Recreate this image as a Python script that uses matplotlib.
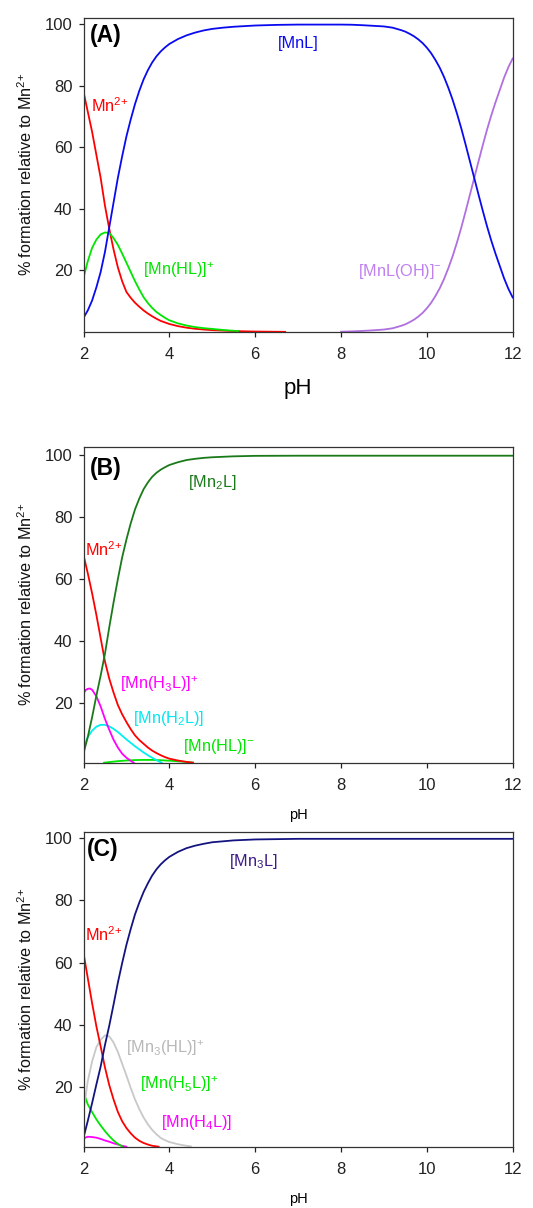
import matplotlib
matplotlib.use("Agg")
import matplotlib.pyplot as plt

plt.rcParams['font.family'] = ['Liberation Sans', 'DejaVu Sans']
plt.rcParams['mathtext.fontset'] = 'custom'
plt.rcParams['mathtext.rm'] = 'Liberation Sans'
plt.rcParams['mathtext.it'] = 'Liberation Sans:italic'
plt.rcParams['mathtext.bf'] = 'Liberation Sans:bold'

# ---------------- Panel A data ----------------
ph_A_mn = [2.0, 2.1, 2.2, 2.3, 2.4, 2.5, 2.6, 2.7, 2.8, 2.9, 3.0, 3.1, 3.2, 3.3, 3.4, 3.5, 3.6, 3.7, 3.8, 3.9,
           4.0, 4.2, 4.4, 4.6, 4.8, 5.0, 5.5, 6.0, 6.7]
A_mn = [78, 71.5, 65, 57.5, 50, 41, 33.5, 26.8, 21, 16.5, 13, 11.1, 9.5, 8.2, 7, 6, 5.1, 4.3, 3.6, 3.1,
        2.6, 1.9, 1.4, 1.05, 0.8, 0.6, 0.3, 0.15, 0.05]

ph_A_hl = [2.0, 2.1, 2.2, 2.3, 2.4, 2.5, 2.6, 2.7, 2.8, 2.9, 3.0, 3.1, 3.2, 3.3, 3.4, 3.5, 3.6, 3.7, 3.8, 3.9,
           4.0, 4.2, 4.4, 4.6, 4.8, 5.0, 5.3, 5.6]
A_hl = [17.6, 23, 27.3, 30, 31.7, 32.3, 32.2, 30.5, 28.3, 25.5, 22.5, 19.5, 16.5, 13.8, 11.3, 9.4, 7.8, 6.5, 5.5, 4.6,
        3.8, 2.8, 2.1, 1.6, 1.25, 1.0, 0.6, 0.3]

ph_A_mnl = [2.0, 2.1, 2.2, 2.3, 2.4, 2.5, 2.6, 2.7, 2.8, 2.9, 3.0, 3.1, 3.2, 3.3, 3.4, 3.5, 3.6, 3.7, 3.8, 3.9,
            4.0, 4.2, 4.4, 4.6, 4.8, 5.0, 5.25, 5.5, 6.0, 6.5, 7.0, 7.5, 8.0, 8.25, 8.5, 8.75,
            9.0, 9.1, 9.2, 9.3, 9.4, 9.5, 9.6, 9.7, 9.8, 9.9, 10.0, 10.1, 10.2, 10.3, 10.4, 10.5,
            10.6, 10.7, 10.8, 10.9, 11.0, 11.1, 11.2, 11.3, 11.4, 11.5, 11.6, 11.7, 11.8, 11.9, 12.0]
A_mnl = [4.6, 7, 10.2, 14.5, 19.5, 26, 34, 42, 50, 57, 63.5, 69, 74, 78.3, 82, 85, 87.5, 89.5, 91.1, 92.4,
         93.5, 95.1, 96.3, 97.2, 97.9, 98.4, 98.8, 99.1, 99.5, 99.7, 99.8, 99.8, 99.8, 99.75, 99.6, 99.4,
         99.2, 99.0, 98.8, 98.4, 98.0, 97.5, 96.8, 96.0, 95.0, 93.8, 92.3, 90.5, 88.3, 85.8, 82.8, 79.3,
         75.4, 71.0, 66.2, 61.0, 55.6, 50.2, 44.8, 39.5, 34.4, 29.7, 25.4, 21.4, 17.4, 14.0, 11.2]

ph_A_oh = [8.0, 8.25, 8.5, 8.75, 9.0, 9.1, 9.2, 9.3, 9.4, 9.5, 9.6, 9.7, 9.8, 9.9, 10.0, 10.1, 10.2, 10.3,
           10.4, 10.5, 10.6, 10.7, 10.8, 10.9, 11.0, 11.1, 11.2, 11.3, 11.4, 11.5, 11.6, 11.7, 11.8, 11.9, 12.0]
A_oh = [0.1, 0.2, 0.35, 0.55, 0.8, 1.0, 1.2, 1.6, 2.0, 2.5, 3.2, 4.0, 5.0, 6.2, 7.7, 9.5, 11.7, 14.2,
        17.2, 20.7, 24.6, 29.0, 33.8, 39.0, 44.4, 49.8, 55.2, 60.5, 65.6, 70.3, 74.6, 78.6, 82.6, 86.0, 88.8]

# ---------------- Panel B data ----------------
ph_B_mn2l = [2.0, 2.1, 2.2, 2.3, 2.4, 2.5, 2.6, 2.7, 2.8, 2.9, 3.0, 3.1, 3.2, 3.3, 3.4, 3.5, 3.6, 3.7, 3.8, 3.9,
             4.0, 4.2, 4.4, 4.6, 4.8, 5.0, 5.5, 6.0, 7.0, 8.0, 9.0, 10.0, 11.0, 12.0]
B_mn2l = [3.9, 9.2, 15.5, 22.5, 29, 36, 44.5, 52.5, 60, 67, 72.8, 78, 82.5, 86, 89, 91.2, 93, 94.3, 95.3, 96.1,
          96.8, 97.7, 98.4, 98.8, 99.1, 99.3, 99.6, 99.75, 99.8, 99.8, 99.8, 99.8, 99.8, 99.8]

ph_B_mn = [2.0, 2.1, 2.2, 2.3, 2.4, 2.5, 2.6, 2.7, 2.8, 2.9, 3.0, 3.1, 3.2, 3.3, 3.4, 3.5, 3.6, 3.7, 3.8, 3.9,
           4.0, 4.2, 4.4, 4.55]
B_mn = [67.8, 61.9, 55.5, 48.5, 41, 33.5, 28, 23.5, 19.5, 16.5, 14, 11.7, 9.7, 8.2, 7, 5.8, 4.8, 4, 3.3, 2.7,
        2.2, 1.6, 1.15, 0.9]

ph_B_h3l = [2.0, 2.05, 2.1, 2.15, 2.2, 2.3, 2.4, 2.5, 2.6, 2.7, 2.8, 2.9, 3.0, 3.1, 3.17]
B_h3l = [23.2, 24.3, 24.7, 24.8, 24.4, 22.3, 19, 15, 11.5, 8.3, 5.8, 3.8, 2.5, 1.5, 0.9]

ph_B_h2l = [2.0, 2.1, 2.2, 2.3, 2.4, 2.5, 2.6, 2.7, 2.8, 2.9, 3.0, 3.1, 3.2, 3.3, 3.4, 3.5, 3.6, 3.7, 3.82]
B_h2l = [5.4, 9.2, 11.2, 12.5, 13.1, 13.1, 12.6, 11.8, 10.8, 9.6, 8.4, 7.3, 6.2, 5.2, 4.2, 3.3, 2.5, 1.7, 0.9]

ph_B_hl = [2.48, 2.6, 2.8, 3.0, 3.2, 3.4, 3.6, 3.8, 4.0, 4.2, 4.4, 4.55]
B_hl = [0.9, 1.1, 1.4, 1.6, 1.75, 1.8, 1.8, 1.7, 1.55, 1.35, 1.15, 0.95]

# ---------------- Panel C data ----------------
ph_C_mn3l = [2.0, 2.1, 2.2, 2.3, 2.4, 2.5, 2.6, 2.7, 2.8, 2.9, 3.0, 3.1, 3.2, 3.3, 3.4, 3.5, 3.6, 3.7, 3.8, 3.9,
             4.0, 4.2, 4.4, 4.6, 4.8, 5.0, 5.5, 6.0, 7.0, 8.0, 9.0, 10.0, 11.0, 12.0]
C_mn3l = [3.7, 9.1, 14.8, 20.8, 26.6, 33.5, 39.7, 46.5, 53.5, 59.8, 65.7, 70.8, 75.5, 79.3, 82.7, 85.5, 88, 90, 91.6, 92.9,
          94, 95.6, 96.8, 97.6, 98.2, 98.7, 99.3, 99.6, 99.8, 99.8, 99.8, 99.8, 99.8, 99.8]

ph_C_mn = [2.0, 2.1, 2.2, 2.3, 2.4, 2.5, 2.6, 2.7, 2.8, 2.9, 3.0, 3.1, 3.2, 3.3, 3.4, 3.5, 3.6, 3.75]
C_mn = [63.1, 55, 47, 39.5, 33, 26.3, 20.6, 16, 12, 9, 6.8, 5.1, 3.7, 2.7, 2.0, 1.5, 1.1, 0.8]

ph_C_m3hl = [2.0, 2.1, 2.2, 2.3, 2.4, 2.5, 2.6, 2.7, 2.8, 2.9, 3.0, 3.1, 3.2, 3.3, 3.4, 3.5, 3.6, 3.7, 3.8, 3.9,
             4.0, 4.2, 4.35, 4.5]
C_m3hl = [12.3, 21.9, 28.2, 32.8, 35.2, 36.6, 36.3, 34.3, 31.3, 27.5, 23.7, 19.7, 16, 12.9, 10.2, 8, 6.2, 4.8, 3.6, 2.9,
          2.3, 1.6, 1.2, 0.9]

ph_C_h5l = [2.0, 2.1, 2.2, 2.3, 2.4, 2.5, 2.6, 2.7, 2.8, 2.9]
C_h5l = [18.2, 14.4, 11.9, 9.6, 7.6, 5.8, 4.2, 2.8, 1.7, 0.9]

ph_C_h4l = [2.0, 2.1, 2.2, 2.3, 2.4, 2.5, 2.6, 2.7, 2.8, 2.9, 3.0]
C_h4l = [3.5, 4.0, 3.9, 3.7, 3.3, 2.8, 2.4, 1.9, 1.5, 1.1, 0.8]

x_ticks = [2, 4, 6, 8, 10, 12]
y_ticks = [20, 40, 60, 80, 100]
MN2 = r'Mn$\mathregular{^{2{+}}}$'
ylabel = '% formation relative to ' + MN2

W, H = 533, 1208
fig = plt.figure(figsize=(W / 100, H / 100), dpi=100)

FS_TICK = 12
FS_LAB = 11.7
FS_TXT = 11.7


def make_ax(top_px, bot_px, ylim):
    left, right = 83.5, 512.7
    ax = fig.add_axes([left / W, 1 - bot_px / H, (right - left) / W, (bot_px - top_px) / H])
    ax.set_xlim(2, 12)
    ax.set_ylim(*ylim)
    ax.set_xticks(x_ticks)
    ax.set_yticks(y_ticks)
    ax.tick_params(direction='out', length=3.5, width=0.9, labelsize=FS_TICK, colors='#222222',
                   top=False, right=False)
    ax.tick_params(axis='x', pad=7.5)
    ax.tick_params(axis='y', pad=4.5)
    for s in ax.spines.values():
        s.set_color('#333333')
        s.set_linewidth(0.9)
    ax.set_ylabel(ylabel, fontsize=FS_LAB, color='#111111', labelpad=7)
    return ax


lw = 1.3

# Panel A
axA = make_ax(17.5, 332.0, (0, 102.1))
axA.plot(ph_A_mn, A_mn, color='#ff0000', lw=lw)
axA.plot(ph_A_hl, A_hl, color='#00e600', lw=lw)
axA.plot(ph_A_oh, A_oh, color='#b070e0', lw=lw)
axA.plot(ph_A_mnl, A_mnl, color='#0a0af0', lw=lw)
axA.set_xlabel('pH', fontsize=16, labelpad=11)
axA.text(2.14, 96.4, '(A)', fontsize=16.5, fontweight='bold', va='center', ha='left')
axA.text(7.0, 93.5, '[MnL]', color='#0a0af0', fontsize=FS_TXT, va='center', ha='center')
axA.text(2.17, 73.5, MN2, color='#ff0000', fontsize=FS_TXT, va='center', ha='left')
axA.text(3.38, 20, r'[Mn(HL)]$\mathregular{^{+}}$', color='#00e600', fontsize=FS_TXT, va='center', ha='left')
axA.text(8.39, 19.5, r'[MnL(OH)]$\mathregular{^{-}}$', color='#c080f0', fontsize=FS_TXT, va='center', ha='left')

# Panel B
axB = make_ax(446.7, 762.7, (0.9, 102.7))
axB.plot(ph_B_hl, B_hl, color='#00e600', lw=lw)
axB.plot(ph_B_h2l, B_h2l, color='#00f0f0', lw=lw)
axB.plot(ph_B_h3l, B_h3l, color='#ff00ff', lw=lw)
axB.plot(ph_B_mn, B_mn, color='#ff0000', lw=lw)
axB.plot(ph_B_mn2l, B_mn2l, color='#1a7a1a', lw=lw)
axB.set_xlabel('pH', fontsize=10.5, labelpad=11)
axB.text(2.14, 95.8, '(B)', fontsize=16.5, fontweight='bold', va='center', ha='left')
axB.text(4.43, 91.2, r'[Mn$\mathregular{_2}$L]', color='#1a7a1a', fontsize=FS_TXT, va='center', ha='left')
axB.text(2.04, 69.5, MN2, color='#ff0000', fontsize=FS_TXT, va='center', ha='left')
axB.text(2.85, 26.2, r'[Mn(H$\mathregular{_3}$L)]$\mathregular{^{+}}$', color='#ff00ff', fontsize=FS_TXT, va='center', ha='left')
axB.text(3.15, 15.2, r'[Mn(H$\mathregular{_2}$L)]', color='#00e8f0', fontsize=FS_TXT, va='center', ha='left')
axB.text(4.31, 6.0, r'[Mn(HL)]$\mathregular{^{-}}$', color='#00e600', fontsize=FS_TXT, va='center', ha='left')

# Panel C
axC = make_ax(832.3, 1146.7, (0.8, 101.9))
axC.plot(ph_C_h4l, C_h4l, color='#ff00ff', lw=lw)
axC.plot(ph_C_h5l, C_h5l, color='#00e600', lw=lw)
axC.plot(ph_C_m3hl, C_m3hl, color='#c8c8c8', lw=lw)
axC.plot(ph_C_mn, C_mn, color='#ff0000', lw=lw)
axC.plot(ph_C_mn3l, C_mn3l, color='#141480', lw=lw)
axC.set_xlabel('pH', fontsize=10.5, labelpad=11)
axC.text(2.09, 96.3, '(C)', fontsize=16.5, fontweight='bold', va='center', ha='left')
axC.text(5.4, 92.5, r'[Mn$\mathregular{_3}$L]', color='#3c1a8a', fontsize=FS_TXT, va='center', ha='left')
axC.text(2.04, 69.0, MN2, color='#ff0000', fontsize=FS_TXT, va='center', ha='left')
axC.text(2.99, 32.5, r'[Mn$\mathregular{_3}$(HL)]$\mathregular{^{+}}$', color='#b8b8b8', fontsize=FS_TXT, va='center', ha='left')
axC.text(3.32, 21.0, r'[Mn(H$\mathregular{_5}$L)]$\mathregular{^{+}}$', color='#00e600', fontsize=FS_TXT, va='center', ha='left')
axC.text(3.81, 8.5, r'[Mn(H$\mathregular{_4}$L)]', color='#ff00ff', fontsize=FS_TXT, va='center', ha='left')

fig.savefig('out.png', dpi=100)
